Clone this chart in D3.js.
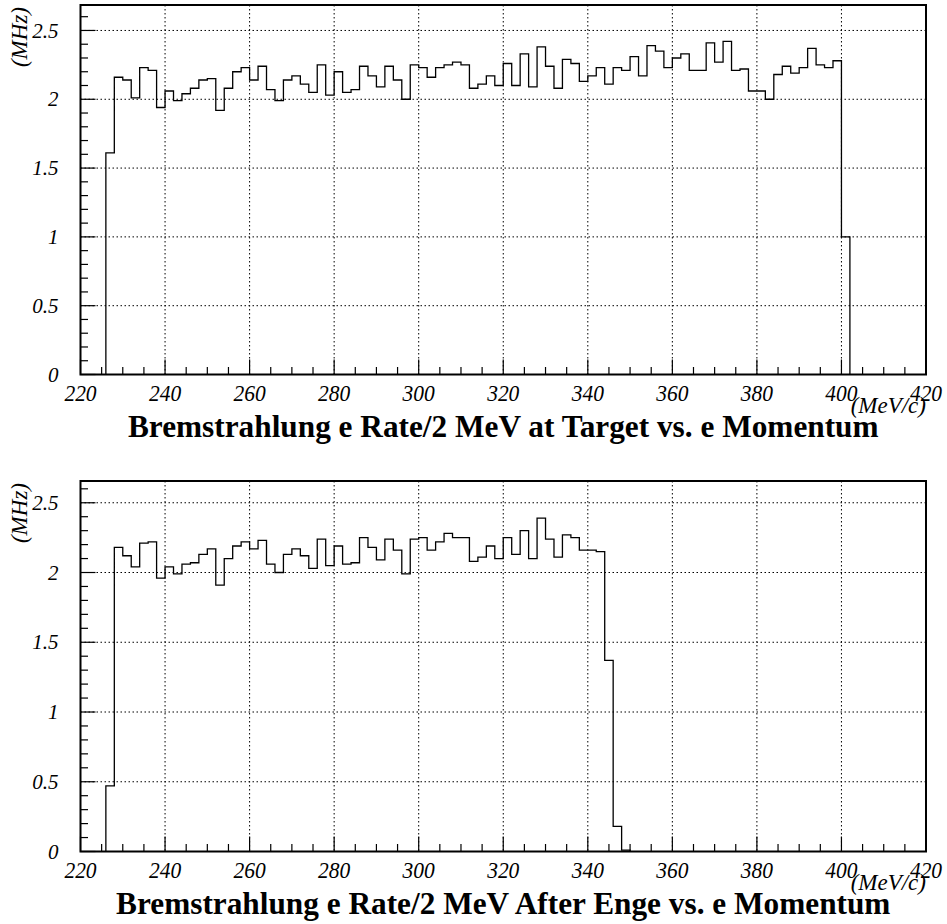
<!DOCTYPE html>
<html>
<head>
<meta charset="utf-8">
<script src="https://cdn.jsdelivr.net/npm/d3@7"></script>
<style>
  html, body { margin: 0; padding: 0; background: #fff; }
  svg { display: block; }
  svg text { font-family: 'Liberation Serif', 'Times New Roman', Times, serif; fill: #000; }
</style>
</head>
<body>
<svg id="chart" width="947" height="924"></svg>
<script>
// Histogram: 2 MeV bins, first bin starts at 226 MeV/c
const binStart = 226;
const binWidth = 2;

// Electron rate (MHz) per 2 MeV bin at the target
const rateAtTarget = [
  1.61, 2.16, 2.14, 2.01, 2.23, 2.21, 1.94, 2.06, 1.99, 2.04,
  2.08, 2.14, 2.15, 1.92, 2.08, 2.20, 2.23, 2.14, 2.24, 2.07,
  1.99, 2.14, 2.17, 2.11, 2.05, 2.25, 2.03, 2.20, 2.05, 2.07,
  2.24, 2.17, 2.09, 2.24, 2.14, 2.00, 2.25, 2.23, 2.16, 2.23,
  2.25, 2.27, 2.25, 2.08, 2.11, 2.17, 2.10, 2.26, 2.10, 2.33,
  2.09, 2.38, 2.24, 2.08, 2.29, 2.26, 2.13, 2.17, 2.23, 2.11,
  2.23, 2.21, 2.31, 2.17, 2.39, 2.35, 2.23, 2.30, 2.33, 2.21,
  2.21, 2.41, 2.27, 2.42, 2.21, 2.22, 2.06, 2.06, 2.00, 2.18,
  2.24, 2.19, 2.23, 2.37, 2.25, 2.23, 2.28, 1.00
];

// Electron rate (MHz) per 2 MeV bin after the Enge spectrometer
const rateAfterEnge = [
  0.47, 2.18, 2.12, 2.04, 2.21, 2.22, 1.96, 2.04, 1.99, 2.06,
  2.07, 2.13, 2.17, 1.91, 2.10, 2.19, 2.22, 2.17, 2.23, 2.06,
  2.00, 2.13, 2.17, 2.12, 2.03, 2.24, 2.05, 2.19, 2.06, 2.07,
  2.25, 2.18, 2.09, 2.24, 2.16, 1.99, 2.24, 2.25, 2.16, 2.22,
  2.28, 2.25, 2.25, 2.08, 2.11, 2.19, 2.10, 2.25, 2.13, 2.30,
  2.10, 2.39, 2.24, 2.11, 2.27, 2.25, 2.16, 2.16, 2.15, 1.37,
  0.18, 0.01
];

const xTickLabels = ["220", "240", "260", "280", "300", "320", "340", "360", "380", "400", "420"];
const yTickLabels = ["0", "0.5", "1", "1.5", "2", "2.5"];
const titles = [
  "Bremstrahlung e Rate/2 MeV at Target vs. e Momentum",
  "Bremstrahlung e Rate/2 MeV After Enge vs. e Momentum"
];
const xUnit = "(MeV/c)";
const yUnit = "(MHz)";

const svg = d3.select("#chart");

const panels = [
  { values: rateAtTarget, top: 5, bottom: 374.5, yMax: 2.685, title: titles[0] },
  { values: rateAfterEnge, top: 481, bottom: 851.5, yMax: 2.656, title: titles[1] }
];

const left = 80.5, right = 926;

// text drawn with a vertical stretch around its baseline point
function stretchedText(parent, px, py, sy, str) {
  return parent.append("text")
    .attr("transform", `translate(${px},${py}) scale(1,${sy})`)
    .text(str);
}

// common title size: the first title spans 751 px
const probe = svg.append("text").attr("font-size", 28).attr("font-weight", "bold").text(titles[0]);
const titleSize = 28 * 751 / probe.node().getComputedTextLength();
probe.remove();
const titleStretch = 21 / (0.662 * titleSize);

panels.forEach(p => {
  const g = svg.append("g");
  const x = d3.scaleLinear().domain([+xTickLabels[0], +xTickLabels[xTickLabels.length - 1]]).range([left, right]);
  const y = d3.scaleLinear().domain([0, p.yMax]).range([p.bottom, p.top]);

  const xMajor = xTickLabels.map(Number);
  const yMajor = yTickLabels.map(Number);
  const xMinor = d3.range(220, 420.01, 5).filter(v => v % 20 !== 0);
  const yMinor = d3.range(0, p.yMax, 0.1).map(v => +v.toFixed(2)).filter(v => Math.abs(v * 2 - Math.round(v * 2)) > 1e-6);

  // dotted grid
  const grid = g.append("g").attr("stroke", "#000").attr("stroke-width", 1)
    .attr("stroke-dasharray", "1.5,2.5").attr("fill", "none");
  xMajor.slice(1, -1).forEach(v => {
    grid.append("line").attr("x1", x(v)).attr("x2", x(v)).attr("y1", p.top).attr("y2", p.bottom);
  });
  yMajor.slice(1).forEach(v => {
    grid.append("line").attr("x1", left).attr("x2", right).attr("y1", y(v)).attr("y2", y(v));
  });

  // ticks pointing into the frame
  const ticks = g.append("g").attr("stroke", "#000").attr("stroke-width", 1.2);
  xMajor.forEach(v => ticks.append("line").attr("x1", x(v)).attr("x2", x(v)).attr("y1", p.bottom).attr("y2", p.bottom - 15));
  xMinor.forEach(v => ticks.append("line").attr("x1", x(v)).attr("x2", x(v)).attr("y1", p.bottom).attr("y2", p.bottom - 7.5));
  yMajor.forEach(v => ticks.append("line").attr("x1", left).attr("x2", left + 15).attr("y1", y(v)).attr("y2", y(v)));
  yMinor.forEach(v => ticks.append("line").attr("x1", left).attr("x2", left + 7.5).attr("y1", y(v)).attr("y2", y(v)));

  // histogram outline
  const pts = [[x(binStart), y(0)]];
  p.values.forEach((v, i) => {
    const lo = binStart + i * binWidth, hi = lo + binWidth;
    pts.push([x(lo), y(v)], [x(hi), y(v)]);
  });
  pts.push([x(binStart + p.values.length * binWidth), y(0)]);
  g.append("path").attr("d", d3.line()(pts))
    .attr("fill", "none").attr("stroke", "#000").attr("stroke-width", 1.3)
    .attr("stroke-linejoin", "miter");

  // frame
  g.append("rect").attr("x", left).attr("y", p.top)
    .attr("width", right - left).attr("height", p.bottom - p.top)
    .attr("fill", "none").attr("stroke", "#000").attr("stroke-width", 2);

  // tick labels
  xTickLabels.forEach(t => {
    stretchedText(g, x(+t), p.bottom + 26, 1.07, t)
      .attr("text-anchor", "middle").attr("font-size", 21.5).attr("font-style", "italic");
  });
  yTickLabels.forEach(t => {
    g.append("text").attr("x", left - 22).attr("y", y(+t)).attr("dy", "0.34em")
      .attr("text-anchor", "end").attr("font-size", 21).attr("font-style", "italic").text(t);
  });

  // axis units
  g.append("text").attr("transform", `translate(27,${p.top + 2}) rotate(-90)`)
    .attr("text-anchor", "end").attr("font-size", 23).attr("font-style", "italic").text(yUnit);
  g.append("text").attr("x", right).attr("y", p.bottom + 38)
    .attr("text-anchor", "end").attr("font-size", 23).attr("font-style", "italic").text(xUnit);

  // title, centred under the frame
  stretchedText(g, (left + right) / 2, p.bottom + 62, titleStretch, p.title)
    .attr("text-anchor", "middle").attr("font-size", titleSize).attr("font-weight", "bold");
});
</script>
</body>
</html>
